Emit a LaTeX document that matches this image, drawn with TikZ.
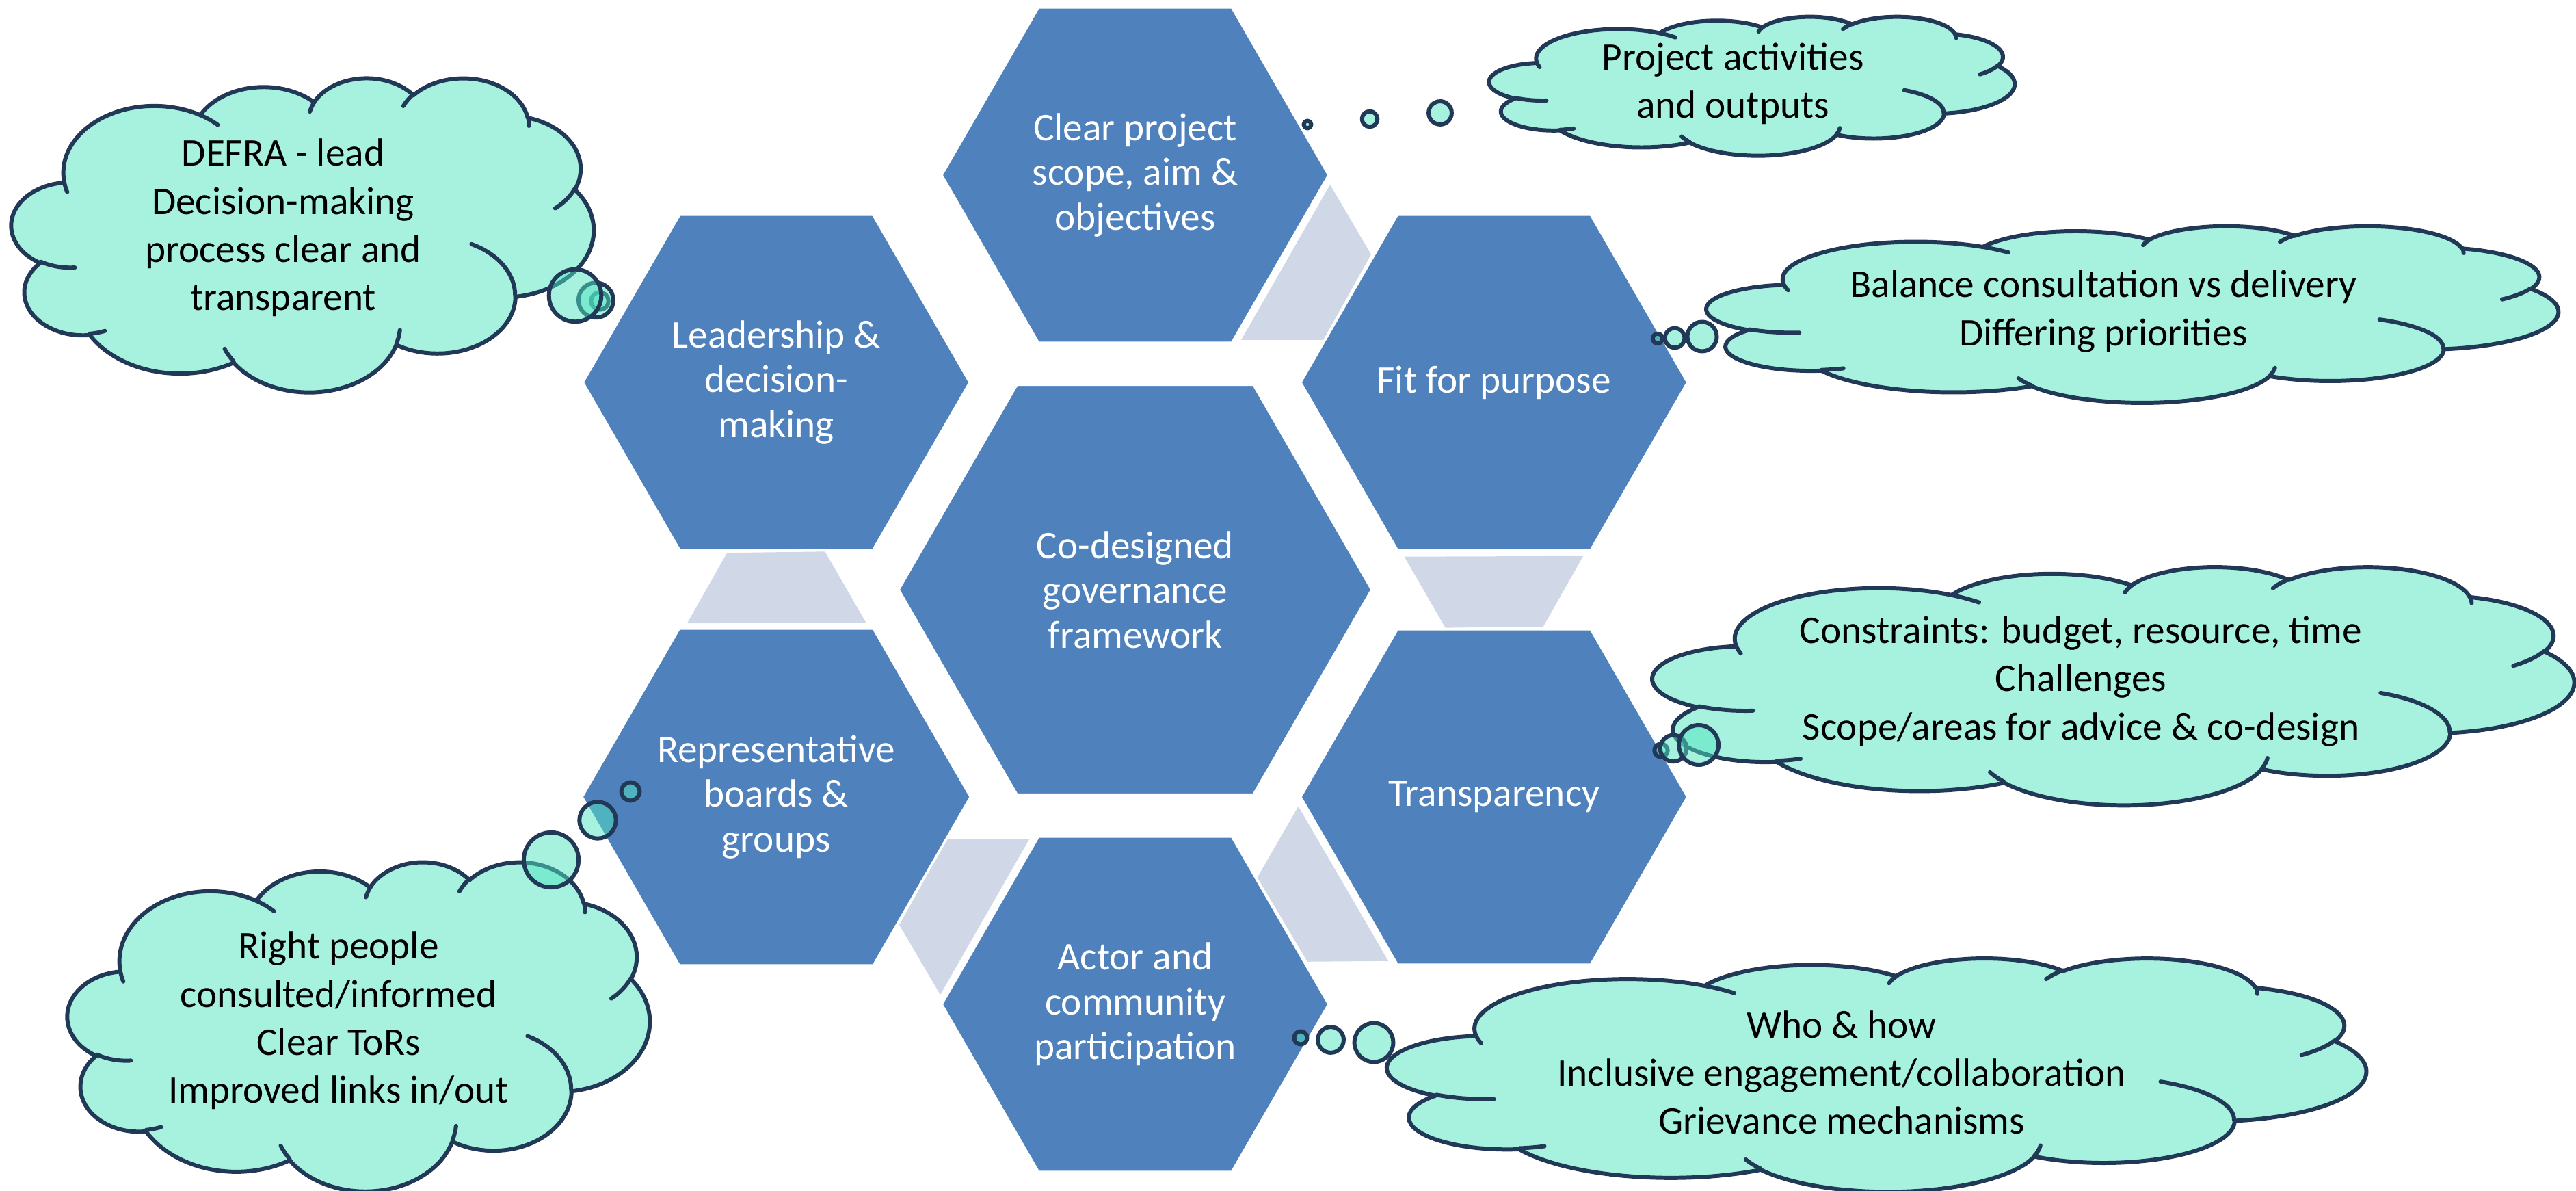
\documentclass[tikz,border=0pt]{standalone}
\usepackage{fontspec}
\setmainfont{Carlito}
\usetikzlibrary{calc,shapes.geometric}

\definecolor{hexblue}{RGB}{79,129,189}
\definecolor{linkgrey}{RGB}{208,216,232}
\definecolor{cloudaqua}{RGB}{80,228,192}
\definecolor{cloudedge}{RGB}{33,56,86}

\tikzset{
    hexa/.style={regular polygon, regular polygon sides=6, minimum size=5.66cm,
        inner sep=0pt, fill=hexblue, draw=white, line width=1pt,
        text=white, align=center, font=\fontsize{16.3}{18.6}\selectfont},
    link/.style={fill=linkgrey},
    cloud/.style={draw=cloudedge, line width=1.7pt, line join=round,
        fill=cloudaqua, fill opacity=0.5},
    cloudline/.style={draw=cloudedge, line width=1.7pt, line cap=round},
    cloudtext/.style={align=center, font=\fontsize{16.3}{20}\selectfont}
}

% Cloud outline in a 100 x 100 box, y pointing down
\newcommand{\cloudbody}{(9.028,33.264)
    arc[start angle=-187.745, end angle=-59.66,  x radius=15.632, y radius=21.273]
    arc[start angle=-152.03,  end angle=-45.475, x radius=12.345, y radius=16.822]
    arc[start angle=-153.48,  end angle=-37.32,  x radius=10.104, y radius=13.762]
    arc[start angle=-139.71,  end angle=-10.21,  x radius=11.243, y radius=15.266]
    arc[start angle=-74.77,   end angle=23.21,   x radius=12.345, y radius=16.836]
    arc[start angle=-37.54,   end angle=81.86,   x radius=15.683, y radius=21.343]
    arc[start angle=0.46,     end angle=121.95,  x radius=13.391, y radius=18.211]
    arc[start angle=16.84,    end angle=146.25,  x radius=15.630, y radius=21.331]
    arc[start angle=59.01,    end angle=150.17,  x radius=17.870, y radius=24.405]
    arc[start angle=-276.69,  end angle=-136.90, x radius=10.093, y radius=13.699]
    arc[start angle=-239.67,  end angle=-95.89,  x radius=10.058, y radius=13.762]
    -- cycle}

% Inner puff lines of the cloud
\newcommand{\cloudinner}{
    (10.863,60.595) arc[start angle=85.54,   end angle=120.33,  x radius=10.058, y radius=13.762]
    (16.037,80.785) arc[start angle=68.24,   end angle=83.31,   x radius=10.093, y radius=13.699]
    (38.144,90.486) arc[start angle=146.25,  end angle=158.48,  x radius=15.630, y radius=21.331]
    (66.729,80.442) arc[start angle=4.74,    end angle=16.84,   x radius=15.630, y radius=21.331]
    (79.002,53.134) arc[start angle=-63.98,  end angle=0.46,    x radius=13.391, y radius=18.211]
    (96.755,35.542) arc[start angle=23.21,   end angle=49.64,   x radius=12.345, y radius=16.836]
    (88.713,12.560) arc[start angle=-10.21,  end angle=0.82,    x radius=11.243, y radius=15.266]
    (67.310,9.148)  arc[start angle=-156.28, end angle=-139.71, x radius=11.243, y radius=15.266]
    (51.252,10.926) arc[start angle=-167.73, end angle=-153.48, x radius=10.104, y radius=13.762]
    (32.407,12.019) arc[start angle=-59.66,  end angle=-45.74,  x radius=15.632, y radius=21.273]
    (9.553,36.549)  arc[start angle=163.19,  end angle=172.25,  x radius=15.632, y radius=21.273]}

% #1,#2 top left corner, #3,#4 width and height / 100
\newcommand{\thoughtcloud}[4]{%
    \begin{scope}[shift={(#1,#2)}, x=#3cm, y=-#4cm]
        \path[cloud] \cloudbody;
        \draw[cloudline] \cloudinner;
    \end{scope}}

\begin{document}
\begin{tikzpicture}
    \useasboundingbox (0,0) rectangle (37.67,17.41);

    % Centre of the hexagon ring
    \def\ring{6.06}
    \coordinate (O) at (16.6,8.79);

    % Grey links between neighbouring hexagons
    \foreach \a in {0,-60,-120,-180,-240}
        \fill[link, rotate around={\a:(O)}] (18.15,12.44) -- (19.45,14.71) -- (20.05,13.69) -- (19.35,12.44) -- cycle;

    % Hexagons
    \node[hexa, minimum size=6.92cm] (core) at (O) {Co-designed\\governance\\framework};
    \node[hexa] (scope) at ($(O)+(90:\ring)$) {Clear project\\scope, aim \&\\objectives};
    \node[hexa] (fit) at ($(O)+(30:\ring)$) {Fit for purpose};
    \node[hexa] (transp) at ($(O)+(-30:\ring)$) {Transparency};
    \node[hexa] (actor) at ($(O)+(-90:\ring)$) {Actor and\\community\\participation};
    \node[hexa] (boards) at ($(O)+(210:\ring)$) {Representative\\boards \&\\groups};
    \node[hexa] (lead) at ($(O)+(150:\ring)$) {Leadership \&\\decision-\\making};

    % Thought clouds
    \thoughtcloud{0.17}{16.28}{0.0851}{0.0459}
    \thoughtcloud{21.78}{17.17}{0.0768}{0.0203}
    \thoughtcloud{24.96}{14.11}{0.1245}{0.0258}
    \thoughtcloud{24.17}{9.13}{0.1347}{0.0348}
    \thoughtcloud{20.29}{3.41}{0.1431}{0.0341}
    \thoughtcloud{0.99}{4.82}{0.0851}{0.0481}

    % Bubbles of each cloud
    \foreach \x/\y/\r in {8.77/13.01/0.128, 8.714/13.022/0.255, 8.41/13.09/0.383,
        19.12/15.59/0.056, 20.03/15.67/0.113, 21.06/15.76/0.169,
        24.24/12.46/0.072, 24.49/12.47/0.143, 24.89/12.49/0.215,
        24.29/6.44/0.097, 24.47/6.47/0.193, 24.84/6.52/0.29,
        19.02/2.24/0.095, 19.46/2.21/0.189, 20.09/2.17/0.284,
        9.22/5.84/0.134, 8.74/5.42/0.267, 8.06/4.84/0.401}
        \draw[cloud] (\x,\y) circle (\r);

    % Cloud texts
    \node[cloudtext] (defra) at (4.14,14.08) {DEFRA - lead\\Decision-making\\process clear and\\transparent};
    \node[cloudtext] (outputs) at (25.34,16.19) {Project activities\\and outputs};
    \node[cloudtext] (balance) at (30.76,12.86) {Balance consultation vs delivery\\Differing priorities};
    \node[cloudtext] (limits) at (30.43,7.45) {Constraints: budget, resource, time\\Challenges\\Scope/areas for advice \& co-design};
    \node[cloudtext] (who) at (26.93,1.73) {Who \& how\\Inclusive engagement/collaboration\\Grievance mechanisms};
    \node[cloudtext] (people) at (4.95,2.49) {Right people\\consulted/informed\\Clear ToRs\\Improved links in/out};
\end{tikzpicture}
\end{document}
